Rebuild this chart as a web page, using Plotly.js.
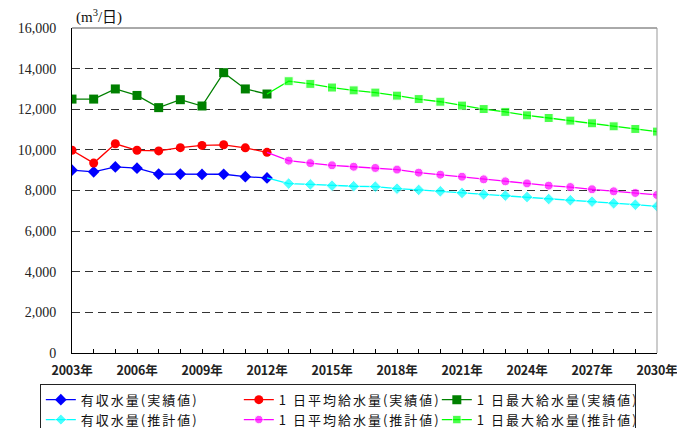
<!DOCTYPE html>
<html>
<head>
<meta charset="utf-8">
<script src="https://cdn.plot.ly/plotly-3.0.1.min.js"></script>
<style>
  html, body { margin: 0; padding: 0; background: #fff; }
  #chart { width: 677px; height: 428px; }
  /* wider spacing for the legend labels */
  #chart .legendtext { letter-spacing: 2px; }
  /* slightly tighter year labels */
  #chart .xtick text { letter-spacing: -0.2px; }
</style>
</head>
<body>
<div id="chart"></div>
<script>
// Years with recorded values and years with projected values
const actualYears = [2003, 2004, 2005, 2006, 2007, 2008, 2009, 2010, 2011, 2012];
const projYears = [2013, 2014, 2015, 2016, 2017, 2018, 2019, 2020, 2021,
                   2022, 2023, 2024, 2025, 2026, 2027, 2028, 2029, 2030];

// 有収水量 (m3/日)
const revenueActual = [9000, 8920, 9160, 9100, 8810, 8810, 8790, 8800, 8680, 8620];
const revenueProj = [8340, 8300, 8240, 8210, 8190, 8090, 8030, 7960, 7880,
                     7810, 7750, 7680, 7580, 7520, 7450, 7370, 7300, 7220];

// 1日平均給水量 (m3/日)
const avgActual = [9980, 9350, 10300, 9980, 9950, 10110, 10220, 10250, 10100, 9880];
const avgProj = [9470, 9350, 9240, 9170, 9110, 9030, 8880, 8780, 8680,
                 8550, 8450, 8350, 8240, 8170, 8060, 7960, 7880, 7780];

// 1日最大給水量 (m3/日)
const maxActual = [12500, 12500, 13000, 12680, 12080, 12470, 12160, 13800, 13000, 12750];
const maxProj = [13380, 13250, 13070, 12930, 12820, 12670, 12500, 12370, 12180,
                 12010, 11870, 11700, 11570, 11440, 11310, 11160, 11030, 10900];

// Labelled years on the x axis
const labelYears = [2003, 2006, 2009, 2012, 2015, 2018, 2021, 2024, 2027, 2030];
const labelText = labelYears.map(y => y + '年');

const names = {
  revA: '有収水量(実績値)', revP: '有収水量(推計値)',
  avgA: '1 日平均給水量(実績値)', avgP: '1 日平均給水量(推計値)',
  maxA: '1 日最大給水量(実績値)', maxP: '1 日最大給水量(推計値)'
};

// A recorded series
function actualTrace(name, ys, color, symbol, size) {
  return {
    type: 'scatter', mode: 'lines+markers', name: name,
    x: actualYears, y: ys,
    line: {color: color, width: 1.3},
    marker: {color: color, symbol: symbol, size: size}
  };
}

// A projected series; its line starts at the last recorded point (no marker there)
function projTrace(name, lastActual, ys, color, symbol, size) {
  const xs = [actualYears[actualYears.length - 1]].concat(projYears);
  const vals = [lastActual].concat(ys);
  const sizes = xs.map((_, i) => (i === 0 ? 0 : size));
  return {
    type: 'scatter', mode: 'lines+markers', name: name,
    x: xs, y: vals,
    line: {color: color, width: 1.3},
    marker: {color: color, symbol: symbol, size: sizes}
  };
}

const last = arr => arr[arr.length - 1];

const traces = [
  actualTrace(names.revA, revenueActual, '#0000ff', 'diamond', 9),
  actualTrace(names.avgA, avgActual, '#ff0000', 'circle', 9),
  actualTrace(names.maxA, maxActual, '#008000', 'square', 9),
  projTrace(names.revP, last(revenueActual), revenueProj, '#00ffff', 'diamond', 9),
  projTrace(names.avgP, last(avgActual), avgProj, '#ff00ff', 'circle', 9),
  projTrace(names.maxP, last(maxActual), maxProj, '#00ff00', 'square', 9)
];

const layout = {
  width: 677, height: 428,
  margin: {l: 72, r: 20, t: 28, b: 75, autoexpand: false},
  paper_bgcolor: '#ffffff', plot_bgcolor: '#ffffff',
  showlegend: true,
  font: {family: '"Noto Sans CJK JP", sans-serif', color: '#000', size: 13},
  xaxis: {
    range: [2003, 2030],
    tickmode: 'array', tickvals: labelYears, ticktext: labelText,
    ticks: 'inside', ticklen: 4, tickcolor: '#000',
    minor: {dtick: 1, ticks: 'inside', ticklen: 4, tickcolor: '#000', showgrid: false},
    showgrid: false, zeroline: false,
    showline: true, linecolor: '#000', linewidth: 1,
    ticklabelstandoff: 6, ticklabeloverflow: 'allow',
    tickfont: {family: '"Noto Sans CJK JP", sans-serif', size: 12.5, weight: 'bold', color: '#222'},
    fixedrange: true
  },
  yaxis: {
    range: [0, 16000], dtick: 2000, tickformat: ',d',
    showgrid: true, gridcolor: '#333', gridwidth: 1, griddash: '8px,5px',
    zeroline: false,
    showline: true, linecolor: '#000', linewidth: 1,
    ticks: '', ticklabelstandoff: 12,
    tickfont: {family: '"Liberation Serif", serif', size: 14, color: '#222'},
    fixedrange: true
  },
  legend: {
    orientation: 'h',
    x: -0.055, xanchor: 'left',
    y: -0.0945, yanchor: 'top',
    bgcolor: '#fff', bordercolor: '#222', borderwidth: 1,
    entrywidth: 153, entrywidthmode: 'pixels',
    font: {family: '"Noto Sans CJK JP", sans-serif', size: 13, color: '#111'},
    itemwidth: 30
  },
  shapes: [
    {type: 'line', xref: 'paper', yref: 'paper', x0: 0, x1: 1, y0: 1, y1: 1,
     line: {color: '#555', width: 1}},
    {type: 'line', xref: 'paper', yref: 'paper', x0: 1, x1: 1, y0: 0, y1: 1,
     line: {color: '#999', width: 1}}
  ],
  annotations: [
    {xref: 'paper', yref: 'paper', x: 0.004, y: 1.0, xanchor: 'left', yanchor: 'bottom',
     showarrow: false, text: '(m<sup>3</sup>/日)',
     font: {family: '"Liberation Serif", "Noto Sans CJK JP", serif', size: 15, color: '#111'}}
  ]
};

Plotly.newPlot('chart', traces, layout, {displayModeBar: false, staticPlot: true});
</script>
</body>
</html>
